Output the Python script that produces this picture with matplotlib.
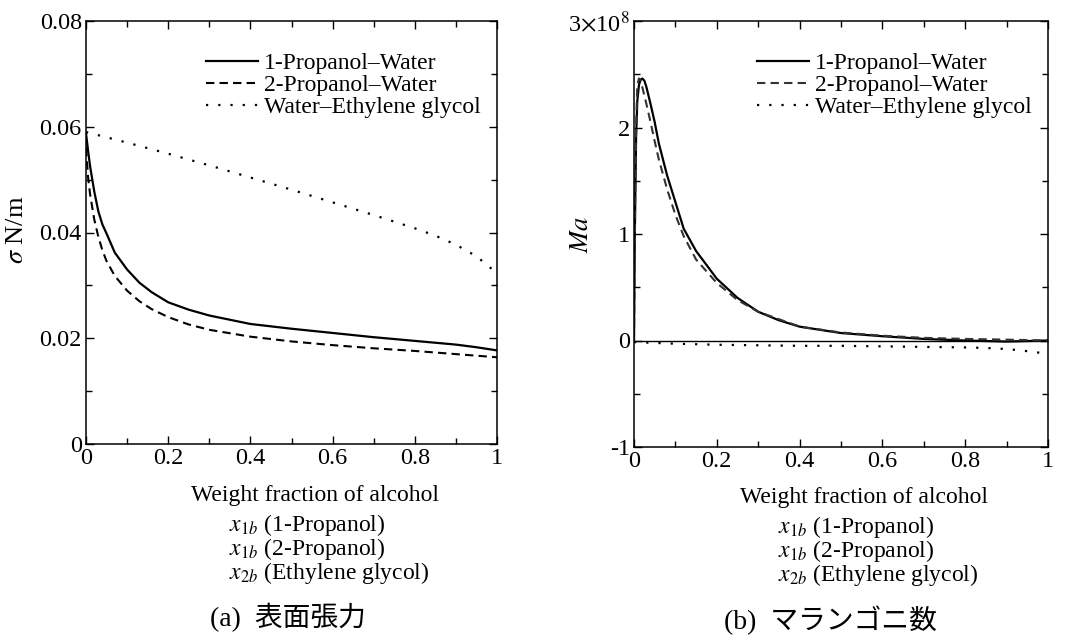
import numpy as np
import matplotlib
matplotlib.use("Agg")
from matplotlib import pyplot as plt
from matplotlib.ticker import MultipleLocator

plt.rcParams['font.family'] = ['Liberation Serif', 'Noto Sans CJK JP']
plt.rcParams['mathtext.fontset'] = 'stix'
plt.rcParams['font.size'] = 17

# (a) surface tension, N/m
x_1p = [0, 0.005, 0.01, 0.02, 0.03, 0.04, 0.05, 0.07, 0.1, 0.13, 0.16, 0.2,
        0.25, 0.3, 0.4, 0.5, 0.6, 0.7, 0.8, 0.9, 0.95, 1.0]
s_1p = [0.0588, 0.0555, 0.0525, 0.0478, 0.0440, 0.0415, 0.0398, 0.0362, 0.0330,
        0.0305, 0.0287, 0.0268, 0.0254, 0.0243, 0.0227, 0.0218, 0.0210, 0.0202,
        0.0195, 0.0188, 0.0183, 0.0177]
x_2p = [0, 0.005, 0.01, 0.02, 0.03, 0.04, 0.05, 0.07, 0.1, 0.13, 0.16, 0.2,
        0.25, 0.3, 0.4, 0.5, 0.6, 0.7, 0.8, 0.9, 1.0]
s_2p = [0.0560, 0.0505, 0.0472, 0.0425, 0.0392, 0.0366, 0.0346, 0.0318, 0.0290,
        0.0270, 0.0255, 0.0240, 0.0226, 0.0216, 0.0203, 0.0194, 0.0187, 0.0181,
        0.0176, 0.0170, 0.0164]
x_eg = [0, 0.1, 0.2, 0.3, 0.4, 0.5, 0.6, 0.7, 0.8, 0.85, 0.9, 0.95, 1.0]
s_eg = [0.0590, 0.0570, 0.0549, 0.0527, 0.0504, 0.0481, 0.0457, 0.0433, 0.0408,
        0.0394, 0.0377, 0.0355, 0.0323]

# (b) Marangoni number, units of 1e8
xm_1p = [0, 0.002, 0.005, 0.008, 0.012, 0.016, 0.02, 0.025, 0.03, 0.04, 0.05, 0.06, 0.08,
         0.1, 0.12, 0.15, 0.2, 0.25, 0.3, 0.35, 0.4, 0.5, 0.6, 0.7, 0.8, 0.9, 1.0]
ma_1p = [0, 1.0, 1.9, 2.25, 2.4, 2.45, 2.46, 2.44, 2.38, 2.22, 2.05, 1.85, 1.55,
         1.3, 1.05, 0.84, 0.58, 0.40, 0.27, 0.19, 0.13, 0.07, 0.04, 0.015, 0.0,
         -0.01, 0.0]
xm_2p = [0, 0.002, 0.005, 0.008, 0.012, 0.016, 0.02, 0.03, 0.04, 0.05, 0.06, 0.08,
         0.1, 0.12, 0.15, 0.2, 0.25, 0.3, 0.4, 0.5, 0.6, 0.7, 0.8, 0.9, 1.0]
ma_2p = [0, 1.0, 2.0, 2.4, 2.46, 2.44, 2.38, 2.22, 2.05, 1.87, 1.7, 1.42,
         1.18, 0.98, 0.76, 0.54, 0.38, 0.27, 0.13, 0.075, 0.045, 0.025, 0.015,
         0.008, 0.0]
xm_eg = [0, 0.1, 0.2, 0.3, 0.4, 0.5, 0.6, 0.7, 0.8, 0.85, 0.9, 0.95, 0.98, 1.0]
ma_eg = [-0.015, -0.03, -0.04, -0.045, -0.05, -0.05, -0.055, -0.06, -0.065,
         -0.07, -0.08, -0.10, -0.115, -0.095]

labels = ['1-Propanol\u2013Water', '2-Propanol\u2013Water', 'Water\u2013Ethylene glycol']
ma_ticks = [-1, 0, 1, 2, 3]
ma_ticklabels = ['-1', '0', '1', '2', r'3$\times$10$^8$']

W, H = 1070, 637
fig = plt.figure(figsize=(W / 100, H / 100), dpi=100)
ax1 = fig.add_axes([86 / W, 1 - 444 / H, 411 / W, 423 / H])
ax2 = fig.add_axes([634 / W, 1 - 447 / H, 414 / W, 426 / H])

solid = dict(color='black', lw=1.6, ls='-')
dashed = dict(color='black', lw=1.5, ls=(0, (4, 2.5)))
dotted = dict(color='black', lw=1.6, ls=(0, (1, 4.5)))

ax1.plot(x_1p, s_1p, label=labels[0], **solid)
ax1.plot(x_2p, s_2p, label=labels[1], **dashed)
ax1.plot(x_eg, s_eg, label=labels[2], **dotted)
ax1.set_xlim(0, 1)
ax1.set_ylim(0, 0.08)
ax1.set_yticks([0, 0.02, 0.04, 0.06, 0.08])
ax1.set_yticklabels(['0', '0.02', '0.04', '0.06', '0.08'])
ax1.yaxis.set_minor_locator(MultipleLocator(0.01))
ax1.set_ylabel(r'$\sigma$ N/m', fontsize=19)
ax1.yaxis.set_label_coords(-0.141, 0.506)

ax2.axhline(0, color='black', lw=1.0)
ax2.plot(xm_1p, ma_1p, label=labels[0], **solid)
ax2.plot(xm_2p, ma_2p, label=labels[1], color='#333333', lw=1.5, ls=(0, (4, 2.5)))
ax2.plot(xm_eg, ma_eg, label=labels[2], **dotted)
ax2.set_xlim(0, 1)
ax2.set_ylim(-1, 3)
ax2.set_yticks(ma_ticks)
ax2.set_yticklabels(ma_ticklabels)
ax2.yaxis.set_minor_locator(MultipleLocator(0.5))
ax2.set_ylabel(r'$Ma$', fontsize=19)
ax2.yaxis.set_label_coords(-0.099, 0.5)

for ax in (ax1, ax2):
    ax.set_xticks([0, 0.2, 0.4, 0.6, 0.8, 1.0])
    ax.set_xticklabels(['0', '0.2', '0.4', '0.6', '0.8', '1'])
    ax.xaxis.set_minor_locator(MultipleLocator(0.1))
    ax.tick_params(which='both', direction='in', top=True, right=True, width=1,
                   labelsize=17.5)
    ax.tick_params(which='major', length=6, pad=3)
    ax.tick_params(which='minor', length=4)
    for sp in ax.spines.values():
        sp.set_linewidth(1.1)
    ax.legend(loc='upper right', bbox_to_anchor=(1.0, 0.965), frameon=False,
              handlelength=2.2, handletextpad=0.25, labelspacing=0.02,
              borderaxespad=0.3, fontsize=17)

# x-axis caption blocks
for x_title, x_left, y0, x_cap, cap in [(315, 229, 495, 288, '(a)  表面張力'),
                                        (864, 778, 497, 830, '(b)  マランゴニ数')]:
    fig.text(x_title / W, 1 - y0 / H, 'Weight fraction of alcohol',
             ha='center', va='center', fontsize=17)
    lines = [r'$x_{1b}$ (1-Propanol)', r'$x_{1b}$ (2-Propanol)',
             r'$x_{2b}$ (Ethylene glycol)']
    for i, t in enumerate(lines):
        fig.text(x_left / W, 1 - (y0 + 30 + 24 * i) / H, t,
                 ha='left', va='center', fontsize=17)
    fig.text(x_cap / W, 1 - (y0 + 123) / H, cap, ha='center', va='center',
             fontsize=20)

fig.savefig('out.png', dpi=100)
